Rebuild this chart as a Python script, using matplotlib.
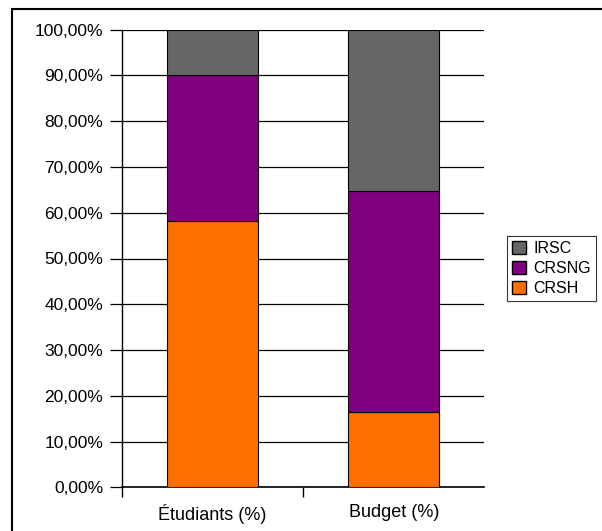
import matplotlib
matplotlib.use("Agg")
import matplotlib.pyplot as plt
from matplotlib.patches import Rectangle, Patch
import numpy as np

plt.rcParams['font.family'] = ['Liberation Sans', 'DejaVu Sans']

categories = ["Étudiants (%)", "Budget (%)"]
crsh = [58.3, 16.5]
crsng = [31.8, 48.3]
irsc = [9.9, 35.2]
yticks = [0, 10, 20, 30, 40, 50, 60, 70, 80, 90, 100]
ytick_labels = ["0,00%", "10,00%", "20,00%", "30,00%", "40,00%", "50,00%",
                "60,00%", "70,00%", "80,00%", "90,00%", "100,00%"]

colors = {"CRSH": "#FF7000", "CRSNG": "#800080", "IRSC": "#666666"}

fig = plt.figure(figsize=(6.02, 5.31), dpi=100)
ax = fig.add_axes([122/602, 1-487.3/531, (484.3-122)/602, (487.3-29.7)/531])

x = np.arange(len(categories))
ax.bar(x, crsh, width=0.5, color=colors["CRSH"], edgecolor="black", linewidth=0.8, zorder=3)
ax.bar(x, crsng, width=0.5, bottom=crsh, color=colors["CRSNG"], edgecolor="black", linewidth=0.8, zorder=3)
bottom2 = [a + b for a, b in zip(crsh, crsng)]
ax.bar(x, irsc, width=0.5, bottom=bottom2, color=colors["IRSC"], edgecolor="black", linewidth=0.8, zorder=3)

ax.set_xlim(-0.5, 1.5)
ax.set_ylim(0, 100)
ax.set_yticks(yticks)
ax.set_yticklabels(ytick_labels, fontsize=12.5)
ax.yaxis.grid(True, color="black", linewidth=0.9, zorder=0)
ax.set_xticks(x)
ax.set_xticklabels(categories, fontsize=13)
ax.tick_params(axis='x', length=0, pad=12)
ax.tick_params(axis='y', length=8.6, width=0.9, pad=5, direction='out')
# category boundary ticks
ax.set_xticks([-0.5, 0.5], minor=True)
ax.tick_params(axis='x', which='minor', length=7.5, width=1.0, direction='out')

for s in ["top", "right"]:
    ax.spines[s].set_visible(False)
ax.spines["left"].set_linewidth(1.0)
ax.spines["bottom"].set_linewidth(1.2)

handles = [Patch(facecolor=colors["IRSC"], edgecolor="black", label="IRSC"),
           Patch(facecolor=colors["CRSNG"], edgecolor="black", label="CRSNG"),
           Patch(facecolor=colors["CRSH"], edgecolor="black", label="CRSH")]
leg = fig.legend(handles=handles, loc="upper left",
                 bbox_to_anchor=(507/602, 1-236/531), fontsize=11.5,
                 frameon=True, fancybox=False, edgecolor="black",
                 handlelength=0.9, handleheight=0.9, handletextpad=0.45,
                 labelspacing=0.3, borderpad=0.3, borderaxespad=0)
leg.get_frame().set_linewidth(0.8)

# outer chart border (right/bottom lie beyond the image)
fig.patches.append(Rectangle((12/602, -0.1), 1.2, 1-9/531+0.1, transform=fig.transFigure,
                             fill=False, edgecolor="black", linewidth=1.5))

fig.savefig("out.png", dpi=100)
